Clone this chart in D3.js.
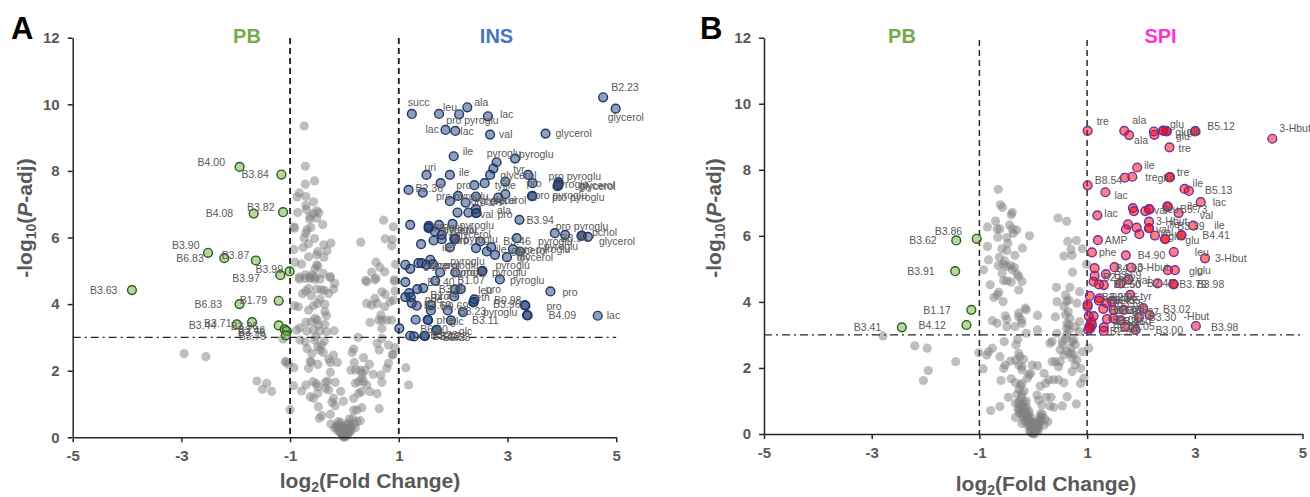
<!DOCTYPE html>
<html>
<head>
<meta charset="utf-8">
<script src="https://d3js.org/d3.v7.min.js"></script>
<style>
  body { margin: 0; background: #fff; }
  svg { display: block; font-family: "Liberation Sans", Arial, sans-serif; }
  .tick text { font-size: 15px; font-weight: bold; fill: #595959; }
  .tick line, .domain { stroke: #262626; stroke-width: 1.5px; }
  .pointlabel { font-size: 10.5px; fill: #595959; }
  .axistitle { font-size: 21px; font-weight: bold; fill: #595959; }
  .grouptitle { font-size: 20px; font-weight: bold; }
  .panel { font-size: 31px; font-weight: bold; fill: #000; }
</style>
</head>
<body>
<script>
"use strict";

// ---- axis ticks
var xTicks = [-5, -3, -1, 1, 3, 5];
var yTicks = [0, 2, 4, 6, 8, 10, 12];

// ---- panel A, not significant
var aGreyX = [-.74,-.72,-.72,-.55,-.83,-.87,-.71,-.57,-.71,-.70,-.86,-.51,-.47,-.57,-.63,-.51,-.64,-.40,-.92,-.93,-.69,-.62,-.71,-.74,-.55,-.66,-.76,-.38,-.25,-.93,-.32,-.49,-.51,-.66,-.38,-.91,-.79,-.51,-.49,-.54,-.39,-.26,-.72,-.60,-.83,-.63,-.54,
  .30,.72,.90,.75,.88,.87,.58,.65,.50,.74,.94,.39,.58,.92,
  -.83,-.72,-.63,-.54,-.45,-.26,-.18,-.20,-.29,-.66,-.71,-.77,-.51,-.42,-.37,-.61,-.45,-.50,-.57,-.36,-.66,-.85,-.92,-.36,-.33,-.54,-.50,-.71,-.61,-.36,-.48,-.82,-.88,-.69,-.57,-.45,-.33,-.19,-.53,-.55,-.82,-.72,-.37,-.42,-.49,-.69,-.45,-.39,-.60,-1.09,-1.03,-.93,-.63,-.61,-.66,-.49,-.29,-.20,-.26,-.13,-.26,-.94,-.71,-.79,-.58,-.52,-.49,-.35,-.31,-.17,-.07,-.63,-.49,-.57,-.29,-.35,-.20,-.23,-.17,-.02,-.48,-1,-.26,-.42,-.46,
  -.25,-.11,-.18,-.05,.01,-.02,.04,.09,.12,.17,.07,.29,.01,-.11,.2,-.01,.02,-.03,-.06,.1,.06,.13,-.14,.23,.15,
  .17,.23,.32,.64,.17,.26,.31,.47,.6,.2,.26,.32,.35,.41,.69,.67,.53,.33,.29,.38,.12,.21,.46,.35,.18,.14,.17,.81,.78,1.13,.88,.89,.81,.93,.64,.6,.69,.25,.69,.47,.63,.69,.78,.87,.67,.41,.5,.56,.6,.74,.69,.75,.9,.93,.84,.41,.56,.92,1.18,
  -2.95,-2.55,-1.61,-1.43,-1.51,-1.34,-1.07,-1.13,
  -.15,-.12,-.1,-.08,-.06,-.04,-.02,0,.02,.04,.06,.08,.1,.03,-.03,.05,-.07];
var aGreyY = [9.35,8.14,7.6,7.7,7.34,7.22,7.23,7.07,6.96,6.84,6.75,6.8,6.74,6.72,6.63,6.58,6.55,6.39,6.28,6.32,6.23,6.3,6.13,5.98,5.97,5.81,5.7,5.78,5.83,5.64,5.6,5.58,5.48,5.42,5.41,5.26,5.2,5.18,5.13,5.06,4.92,4.83,4.88,4.88,4.81,4.81,4.81,
  5.86,6.52,6.32,5.96,5.94,5.75,5.26,5.11,4.96,4.97,5.2,4.71,4.78,4.73,
  4.75,4.77,4.77,4.75,4.75,4.79,4.62,4.45,4.32,4.47,4.39,4.31,4.45,4.43,4.41,4.25,4.15,4.02,3.95,3.99,3.82,3.92,3.95,3.77,3.65,3.57,3.52,3.45,3.47,3.39,3.37,3.29,3.22,3.19,3.22,3.19,3.17,3.2,3.02,2.92,2.92,2.87,2.89,2.77,2.72,2.67,2.62,2.55,2.52,2.27,2.19,2.09,2.29,2.25,2.07,2.19,2.35,2.47,2.25,2.25,1.95,1.55,1.57,1.39,1.67,1.61,1.52,1.65,1.69,1.65,1.38,1.22,1.32,1.17,1.42,1.47,1.17,1.05,.95,1.08,.92,.83,.69,.65,.57,
  .40,.47,.27,.22,.07,.09,.17,.55,.32,.42,.42,.50,.27,.27,.29,0,.02,.03,.12,.17,.1,.22,.37,.47,.57,
  .82,.82,.89,.86,1.17,1.32,1.37,1.37,1.31,1.62,1.67,1.77,1.67,1.57,1.65,1.87,1.89,1.92,2.02,2.02,2.02,2.02,2.19,2.39,2.25,2.55,2.65,2.22,2.07,2.09,2.47,2.49,2.77,2.69,2.62,2.82,2.97,3.0,3.27,3.45,3.52,3.52,3.52,3.52,3.67,4.02,3.97,4.17,4.02,3.92,4.37,4.29,4.12,4.39,4.07,4.67,4.73,4.69,1.57,
  2.51,2.42,1.69,1.62,1.44,1.38,2.26,2.95,
  .3,.2,.36,.15,.28,.1,.18,.05,.12,.06,.26,.14,.3,.22,.34,.38,.44];

// ---- panel A, PB group
var aPbNames = ["B4.00","B3.84","B4.08","B3.82","B3.90","B6.83","B3.87","B3.99","B3.97","B3.63","B1.79","B6.83","B3.44","B3.71","B3.96","B3.46","B3.78","B3.79"];
var aPbX = [-1.93,-1.16,-1.67,-1.13,-2.51,-2.21,-1.63,-1.01,-1.18,-3.91,-1.21,-1.93,-1.98,-1.70,-1.21,-1.10,-1.06,-1.08];
var aPbY = [8.12,7.89,6.72,6.76,5.54,5.38,5.31,4.98,4.87,4.42,4.10,4.0,3.39,3.46,3.36,3.24,3.19,3.06];
var aPbDx = [-42,-40,-48,-36,-36,-48,-34,-34,-48,-42,-39,-45,-48,-48,-48,-47,-49,-47];
var aPbDy = [-5,0,0,-5,-8,0,-5,-2,3,0,0,0,1,1,1,1,1,1];

// ---- panel A, INS group (labelled points first, the rest carry no name)
var aInsNames = ["B2.23","glycerol","succ","leu","pro pyroglu","ala","lac","lac","lac","val",
  "glycerol","ile","pyroglu","pyroglu","uri","ile","tyr","glycerol","pro","tyr",
  "pro","pro pyroglu","pyroglu","glycerol","glycerol","B2.36","ile","pro pyroglu","glycerol","glycerol",
  "pro pyroglu","pro pyroglu","glycerol","ala","val","pro","B3.94","pro pyroglu","pyroglu","B3.94",
  "glycerol","pchol","pyroglu","glu","pro","glycerol","pyroglu","glycerol","pro","pro",
  "pyroglu","ile","ile","B3.46","pyroglu","glycerol","pro pyroglu","glycerol","lac","pyroglu",
  "glycerol","pro","pyroglu","pyroglu","pro","pyroglu","pyroglu","pyroglu","B3.40","B1.07",
  "B3.69","eth","leu","pro","pro","B0.98","pro","B3.96","B4.09","lac",
  "B3.11","pyroglu","B3.23","phe","glc","B6.90","glc","B3.23","B3.23","B4.23",
  "B2.23","B1.34","phe","B3.69","B9.69","pro"];
var aInsDx = [8,-8,-4,4,-13,7,12,-20,5,9,
  10,9,-10,4,-2,9,-15,-5,-18,10,
  -6,-10,-4,20,22,7,0,-22,4,-8,
  2,20,5,21,4,21,7,1,-27,-21,
  11,10,7,10,5,12,8,13,12,0,
  8,-8,20,23,27,20,5,10,30,20,
  5,12,18,12,5,10,13,10,-8,2,
  -22,1,5,12,12,-31,21,-34,21,9,
  21,20,11,9,22,-16,22,8,20,26,
  18,21,14,12,10,-20];
var aInsDy = [-10,9,-12,-7,6,-5,-2,-1,0,0,
  0,-5,-9,-4,-8,-3,-6,-6,0,2,
  0,-6,-1,1,0,-2,-9,0,4,3,
  -1,1,-1,1,1,1,0,-7,6,2,
  4,-3,1,2,0,2,-2,-1,1,1,
  1,0,1,0,8,3,0,0,5,1,
  2,2,0,0,0,1,-6,1,2,-9,
  0,-2,-12,-12,1,-5,1,-11,0,0,
  0,0,1,1,1,0,1,1,0,0,
  1,2,2,2,1,0];
var aInsX = [4.76,4.99,1.24,1.74,2.11,2.26,2.64,1.86,2.04,2.68,
  3.7,2.01,2.8,3.14,1.51,1.94,3.38,2.96,2.39,2.58,
  3.46,3.94,3.93,3.94,3.92,1.18,2.96,2.09,2.42,2.83,
  3.46,3.45,2.23,2.42,2.42,2.43,3.22,3.87,4.06,4.36,
  4.48,4.37,1.99,1.74,1.55,1.55,1.66,1.79,1.79,2.02,
  2.04,1.94,2.42,2.5,3.17,2.7,3.1,2.99,2.62,1.58,
  1.36,1.42,1.51,1.76,2.04,2.53,2.54,2.86,1.67,2.04,
  2.14,2.39,2.37,2.38,3.79,3.32,3.33,3.36,3.37,4.66,
  1.96,2.18,1.9,1.53,1.54,1.69,1.7,1.47,1.21,1.28,
  1.48,1.19,1.22,1.24,1.59,2.02,
  2.74,2.68,1.77,1.44,1.94,2.08,2.28,1.21,1.64,1.41,2.77,3.23,1.12,1.21,1.12,1.45,1.34,1.12,1.59,1.01,1.31,1.33,1.55,1.63];
var aInsY = [10.21,9.87,9.71,9.71,9.70,9.91,9.64,9.23,9.2,9.09,
  9.12,8.44,8.26,8.37,7.88,7.88,7.88,7.68,7.57,7.63,
  7.63,7.66,7.56,7.6,7.54,7.43,7.3,7.25,7.23,7.2,
  7.25,7.24,7.05,6.85,6.73,6.74,6.53,6.13,6.08,6.05,
  6.02,6.06,6.41,6.38,6.35,6.28,6.18,6.08,5.95,5.96,
  5.97,5.7,5.68,5.88,5.98,5.71,5.65,5.41,5.58,5.33,
  5.23,5.23,5.18,4.95,4.95,4.98,5.0,4.74,4.7,4.44,
  4.45,4.14,4.05,4.07,4.38,3.97,3.95,3.67,3.66,3.65,
  3.51,3.76,3.81,3.53,3.52,3.23,3.22,3.05,3.05,3.03,
  3.04,4.33,4.21,4.03,3.97,4.23,
  8.07,7.88,7.63,7.35,7.09,6.75,6.75,6.38,5.91,5.8,5.48,5.58,5.18,5.06,4.66,4.48,4.45,4.21,3.81,3.27,3.53,3.95,6.3,5.2];

// ---- panel B, not significant
var bGreyX = [-.65,-.61,-.57,-.39,-.41,.46,.62,-.70,-.85,-.44,-.67,-.62,-.39,-.31,-.37,-.07,-.66,-.49,.64,.80,-.47,-.85,-.58,-.49,-.2,.70,.91,.57,.72,-.34,-.63,-.83,-.53,-.56,-.65,-.49,-.42,-.35,-.39,-.92,-.58,-.30,-.27,.99,.73,-.55,-.49,-.41,-.21,-.8,-.27,.43,.68,.86,-.64,-.67,-.73,-.56,.6,.66,.44,.62,.81,
  .08,-.76,-.67,-.52,-.49,-.49,-.34,-.27,-.27,-.15,-.13,-.21,-.22,-.13,.08,.41,.57,.6,.63,.62,.66,.86,.78,.85,.44,.35,.31,.54,-.54,-.29,-.32,-.76,-.83,-1.01,-.86,-.62,-.27,-.25,.75,.78,.72,.5,.63,.69,.57,.81,.91,1.03,
  -.93,-.55,-.52,-.42,-.33,-.27,-.21,-.18,-.02,.08,-.21,.35,.41,.47,.5,.72,.78,.88,.94,.88,-.6,-.41,-.08,-.05,-.11,-.21,-.24,-.33,.2,.29,.38,.47,.57,.13,.23,
  -.46,-.21,.07,.1,.24,.33,.63,.8,-.62,-.79,-.33,-.27,-.21,-.15,-.27,-.08,.54,.38,.31,.16,
  -.33,-.21,-.18,-.08,-.02,0,.02,-.02,-.05,.04,.07,.13,.13,-.11,.1,-.15,.27,.2,-.25,-.18,-.02,-.07,.02,-.04,-.12,
  -2.79,-2.2,-1.97,-1.44,-1.95,-2.04,
  -.3,-.25,-.24,-.22,-.2,-.18,-.16,-.14,-.12,-.1,-.08,-.06,-.04,-.02,0,.02,.04,.06,.08,.1,.12,-.28,-.26,-.17,-.13,-.09,-.05,-.03,.01,.03,.05,.07,.09,.11,.15,-.23,-.19,.14,.17,.22,
  .65,.68,.66,.62,.7,.75,.72,.55,.6];
var bGreyY = [7.41,6.94,6.86,6.71,6.64,6.54,6.44,6.45,6.27,6.33,6.21,6.21,6.21,6.18,6.08,6.0,5.96,5.95,5.83,5.86,5.77,5.68,5.61,5.55,5.63,5.59,5.61,5.39,5.41,5.41,5.35,5.27,5.24,5.14,5.1,5.07,5.1,5.04,4.97,4.97,4.87,4.84,4.77,5.14,4.9,4.64,4.64,4.6,4.62,4.52,4.36,4.44,4.44,4.31,4.29,4.21,4.13,4.01,4.21,4.06,4.01,4.01,3.96,
  3.59,3.43,3.35,3.58,3.47,3.25,3.25,3.66,3.55,3.81,3.76,3.35,3.45,3.05,3.15,3.55,3.86,3.61,3.35,3.2,3.15,3.4,3.25,3.1,3.05,2.8,2.75,2.8,2.8,2.87,2.7,2.6,2.49,2.46,2.39,2.34,2.44,2.34,2.85,2.7,2.8,2.55,2.49,2.44,2.39,2.24,2.49,2.6,
  1.97,1.99,2.09,2.21,2.24,2.09,2.04,2.26,2.09,2.07,1.94,2.19,2.19,2.04,2.19,1.89,2.09,1.99,1.69,1.53,1.62,1.67,1.79,1.84,1.69,1.53,1.48,1.55,1.84,1.64,1.64,1.64,1.55,1.45,1.53,
  1.11,1.21,1.18,1.03,1.11,1.11,1.13,.91,.83,.71,.93,.93,.83,.78,.73,.68,.85,.81,.85,.88,
  .5,.32,.47,.42,.17,.02,0,.02,.17,.17,.27,.52,.42,.27,.12,.37,.37,.27,.62,.62,.32,.08,.1,.05,.55,
  2.97,2.67,2.6,2.19,1.92,1.62,
  1.2,1.0,.85,1.1,.9,.7,.95,.6,.8,.5,.6,.4,.5,.28,.35,.2,.3,.14,.38,.26,.4,.75,1.35,1.3,1.0,.35,.22,.13,.1,.08,.16,.12,.22,.3,.5,.65,.55,.62,.58,.45,
  3.7,3.5,3.3,3.0,2.6,2.4,2.3,2.7,2.9];

// ---- panel B, PB group
var bPbNames = ["B3.86","B3.62","B3.91","B1.17","B4.12","B3.41"];
var bPbX = [-1.05,-1.43,-1.45,-1.15,-1.24,-2.44];
var bPbY = [5.91,5.86,4.93,3.76,3.3,3.23];
var bPbDx = [-42,-47,-48,-48,-48,-48];
var bPbDy = [-8,0,0,0,0,0];

// ---- panel B, SPI group (labelled points first)
var bSpiNames = ["tre","ala","ala","glu","glu","glu","B5.12","glu","tre","3-Hbut",
  "ile","tre","tre","glu","B8.54","lac","ile","B5.13","lac","lac",
  "val","ile","B4.41","AMP","ile","B5.73","val","leu","3-Hbut","val",
  "val","ile","B3.39","glu","glu","phe","B4.90","leu","3-Hbut","B4.90",
  "3-Hbut","glu","glu","B3.69","B3.79","B3.98","B2.42","B2.50","val","B2.50",
  "lac","tyr","B2.95","B2.85","B3.65","B3.65","B3.02","-Hbut","B3.30","B3.03",
  "B3.05","B3.00","B3.98","B2.99","B3.05","B3.41","B3.27","B2.30",
  "B3.60","B3.45","B2.60","B2.95","B2.69"];
var bSpiDx = [9,8,5,7,9,9,12,-8,9,7,
  7,13,7,-12,7,9,8,16,12,7,
  21,21,21,7,20,12,5,15,7,7,
  5,30,12,3,4,7,12,21,10,1,
  6,21,22,8,6,23,-11,-7,8,10,
  20,10,11,1,10,7,20,34,10,5,
  9,20,15,6,2,4,8,20,
  6,9,3,12,8];
var bSpiDy = [-10,-11,5,-6,1,5,-5,0,1,-10,
  -2,1,-5,1,-5,3,-6,-1,0,-2,
  2,0,0,0,0,3,1,0,0,1,
  -3,-10,-13,-3,5,0,0,0,0,1,
  0,1,0,1,0,0,0,1,1,-1,
  -3,1,-1,-1,0,0,1,1,0,1,
  1,0,1,0,0,3,2,-6,
  1,0,1,1,1];
var bSpiX = [1.01,1.69,1.78,2.41,2.47,2.48,3.01,3.0,2.53,4.44,
  1.93,1.84,2.54,2.53,1.01,1.34,2.81,2.89,3.11,1.19,
  2.7,2.97,2.75,1.2,2.49,2.5,2.15,2.16,2.15,2.15,
  2.26,1.97,2.45,2.45,2.75,1.09,1.72,2.61,3.19,1.51,
  1.82,2.5,2.63,1.35,2.6,2.61,2.31,1.62,1.77,1.31,
  1.22,1.8,1.23,1.46,1.36,1.49,2.04,2.16,1.96,1.37,
  1.31,1.9,3.02,1.31,1.71,1.49,1.68,1.12,
  1.3,1.22,1.62,1.05,1.14,
  2.24,2.25,1.7,1.85,1.87,2.08,1.76,1.72,1.92,2.15,1.14,1.12,1.01,1.01,1.03,1.09,1.06,2.42,1.02,1.04,1.08];
var bSpiY = [9.18,9.18,9.05,9.19,9.18,9.16,9.17,9.16,8.68,8.94,
  8.07,7.79,7.78,7.77,7.53,7.32,7.42,7.36,7.02,6.62,
  6.69,6.31,6.01,5.87,6.89,6.88,6.81,6.8,6.43,6.23,
  6.01,6.05,5.91,5.9,6.02,5.5,5.41,5.51,5.32,5.05,
  5.04,4.96,4.96,4.84,4.54,4.53,4.56,4.56,4.68,4.51,
  4.53,4.21,4.11,4.01,3.96,3.76,3.81,3.6,3.53,3.48,
  3.23,3.15,3.27,3.12,3.25,3.5,3.76,3.57,
  3.79,4.04,3.45,4.18,4.79,
  9.16,9.06,7.76,6.84,6.75,6.75,6.35,6.2,6.25,6.23,5.02,4.61,3.86,3.92,3.57,3.3,3.2,9.18,3.15,3.25,3.4];

var width = 1310, height = 497;
var svg = d3.select("body").append("svg").attr("width", width).attr("height", height);

function drawPanel(p) {
  var x = d3.scaleLinear().domain([-5, 5]).range(p.xRange);
  var y = d3.scaleLinear().domain([0, 12]).range(p.yRange);
  var g = svg.append("g");

  // grey points sit under everything else
  g.append("g").selectAll("circle")
    .data(p.greyX)
    .enter().append("circle")
    .attr("cx", function(d) { return x(d); })
    .attr("cy", function(d, i) { return y(p.greyY[i]); })
    .attr("r", 4.6)
    .attr("fill", "#7f7f7f")
    .attr("fill-opacity", 0.5);

  // cut-off lines
  [-1, 1].forEach(function(v) {
    g.append("line")
      .attr("x1", x(v)).attr("x2", x(v))
      .attr("y1", p.dashTop).attr("y2", y(0))
      .attr("stroke", "#262626").attr("stroke-width", p.dashWidth)
      .attr("stroke-dasharray", "6 4");
  });
  g.append("line")
    .attr("x1", x(-5)).attr("x2", x(5))
    .attr("y1", y(3)).attr("y2", y(3))
    .attr("stroke", "#262626").attr("stroke-width", 1.3)
    .attr("stroke-dasharray", "8 4 2 4");

  g.append("g")
    .attr("transform", "translate(0," + y(0) + ")")
    .call(d3.axisBottom(x).tickValues(xTicks).tickFormat(function(d) { return d; }).tickSize(5).tickSizeOuter(0).tickPadding(8));
  g.append("g")
    .attr("transform", "translate(" + x(-5) + ",0)")
    .call(d3.axisLeft(y).tickValues(yTicks).tickSize(5).tickSizeOuter(0).tickPadding(8));

  p.groups.forEach(function(s) {
    var gs = g.append("g");
    gs.selectAll("circle")
      .data(s.x)
      .enter().append("circle")
      .attr("cx", function(d) { return x(d); })
      .attr("cy", function(d, i) { return y(s.y[i]); })
      .attr("r", 4.4)
      .attr("fill", s.fill)
      .attr("fill-opacity", 0.5)
      .attr("stroke", s.stroke)
      .attr("stroke-width", 1.4);
    gs.selectAll("text")
      .data(s.names)
      .enter().append("text")
      .attr("class", "pointlabel")
      .attr("x", function(d, i) { return x(s.x[i]) + s.dx[i]; })
      .attr("y", function(d, i) { return y(s.y[i]) + s.dy[i] + 3.7; })
      .text(function(d) { return d; });
  });

  // panel letter, group names
  svg.append("text").attr("class", "panel").attr("x", p.letterX).attr("y", 39).text(p.letter);
  p.titles.forEach(function(t) {
    svg.append("text").attr("class", "grouptitle")
      .attr("x", t.x).attr("y", 43).attr("text-anchor", "middle")
      .attr("fill", t.color).text(t.text);
  });

  // x title, with subscript
  var xt = svg.append("text").attr("class", "axistitle")
    .attr("x", p.xTitleX).attr("y", p.xTitleY).attr("text-anchor", "middle");
  xt.append("tspan").text("log");
  xt.append("tspan").attr("font-size", 14).attr("dy", 4).text("2");
  xt.append("tspan").attr("dy", -4).text("(Fold Change)");

  // y title, rotated
  var yt = svg.append("text").attr("class", "axistitle")
    .attr("transform", "translate(" + p.yTitleX + "," + p.yTitleY + ") rotate(-90)")
    .attr("text-anchor", "middle");
  yt.append("tspan").text("-log");
  yt.append("tspan").attr("font-size", 14).attr("dy", 4).text("10");
  yt.append("tspan").attr("dy", -4).text("(");
  yt.append("tspan").attr("font-style", "italic").text("P");
  yt.append("tspan").text("-adj)");
}

drawPanel({
  letter: "A", letterX: 11,
  xRange: [72.7, 616.2], yRange: [437.3, 37.7], dashTop: 38, dashWidth: 1.9,
  xTitleX: 370, xTitleY: 488, yTitleX: 32, yTitleY: 218,
  greyX: aGreyX, greyY: aGreyY,
  groups: [
    {x: aPbX, y: aPbY, names: aPbNames, dx: aPbDx, dy: aPbDy, fill: "#70ad47", stroke: "#2f5d1a"},
    {x: aInsX, y: aInsY, names: aInsNames, dx: aInsDx, dy: aInsDy, fill: "#1f3f7a", stroke: "#1f3864"}
  ],
  titles: [
    {text: "PB", x: 247, color: "#70ad47"},
    {text: "INS", x: 496.5, color: "#4472c4"}
  ]
});

drawPanel({
  letter: "B", letterX: 700,
  xRange: [764, 1302.5], yRange: [434, 37.7], dashTop: 40, dashWidth: 1.5,
  xTitleX: 1046, xTitleY: 491, yTitleX: 721, yTitleY: 218,
  greyX: bGreyX, greyY: bGreyY,
  groups: [
    {x: bPbX, y: bPbY, names: bPbNames, dx: bPbDx, dy: bPbDy, fill: "#70ad47", stroke: "#2f5d1a"},
    {x: bSpiX, y: bSpiY, names: bSpiNames, dx: bSpiDx, dy: bSpiDy, fill: "#ff0000", stroke: "#7030a0"}
  ],
  titles: [
    {text: "PB", x: 902, color: "#70ad47"},
    {text: "SPI", x: 1160.5, color: "#ff33cc"}
  ]
});
</script>
</body>
</html>
